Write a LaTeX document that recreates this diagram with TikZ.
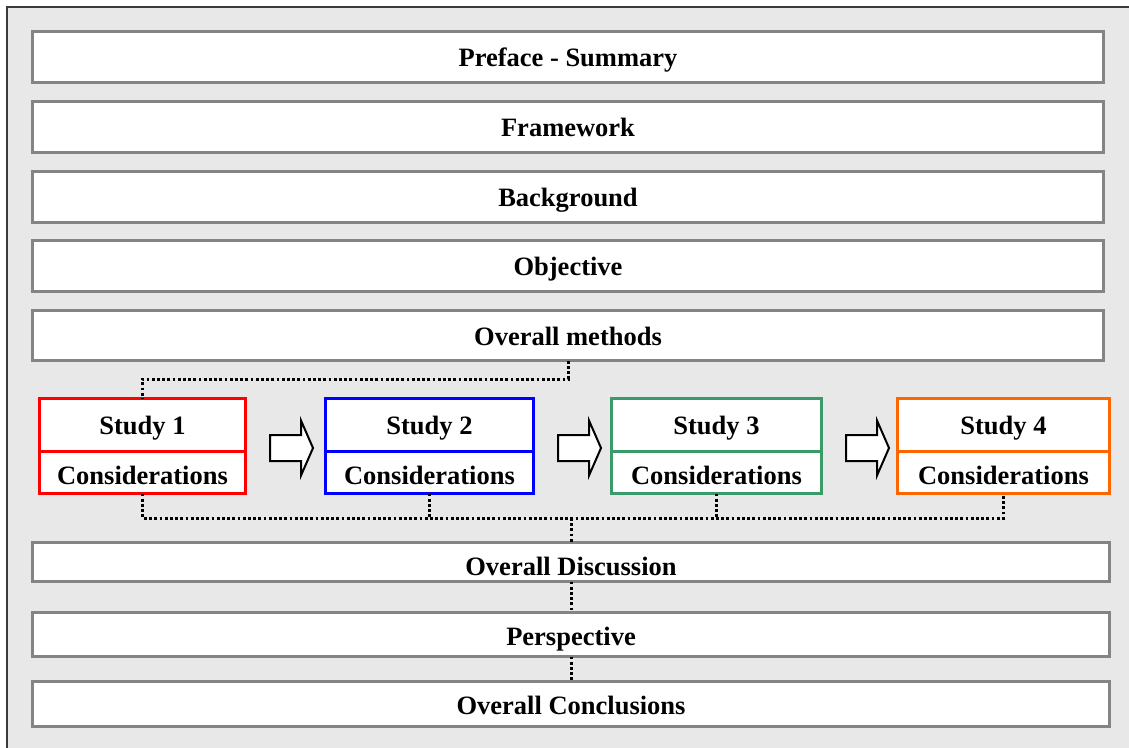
\documentclass[tikz,border=0pt]{standalone}
\usepackage{fontspec}
\setmainfont{Liberation Serif}
\definecolor{bg}{HTML}{E8E8E8}
\definecolor{boxgray}{HTML}{848484}
\definecolor{framec}{HTML}{3A3A3A}
\definecolor{sonec}{HTML}{FF0000}
\definecolor{stwoc}{HTML}{0000FF}
\definecolor{sthreec}{HTML}{3A9A6A}
\definecolor{sfourc}{HTML}{FF6600}
\begin{document}
\begin{tikzpicture}[x=1pt,y=-1pt,
  txt/.style={font=\fontsize{26.5}{30}\selectfont\bfseries, text height=19pt, text depth=0pt, inner sep=0pt, outer sep=0pt, align=center},
  box/.style={txt, draw=boxgray, line width=3pt, fill=white},
  widebox/.style={box, minimum width=1071pt, minimum height=51pt},
  lowbox/.style={box, minimum width=1077pt},
  studytop/.style={txt, draw=#1, line width=3pt, fill=white, minimum height=52.5pt},
  studybot/.style={txt, draw=#1, line width=3pt, fill=white, minimum height=42.5pt},
  dotline/.style={line width=3pt, dash pattern=on 2.8pt off 2.4pt, black},
  fatarrow/.pic={\draw[line width=2pt, fill=white, line join=miter] (0,-13) -- (31,-13) -- (31,-27.5) -- (43,0) -- (31,27.5) -- (31,13) -- (0,13) -- cycle;}
]
\useasboundingbox (0,0) rectangle (1129,747);
\clip (0,0) rectangle (1129,747);
\fill[white] (0,0) rectangle (1129,747);
\fill[bg] (7,7) rectangle (1145,765);
\draw[framec, line width=2.5pt] (7,7) rectangle (1145,765);

% top boxes
\node[widebox] (pref) at (568,57) {Preface - Summary};
\node[widebox] (frame) at (568,127) {Framework};
\node[widebox] (back) at (568,197) {Background};
\node[widebox] (obj) at (568,266) {Objective};
\node[widebox, minimum height=50.5pt] (meth) at (568,335.5) {Overall methods};

% studies
\node[studytop=sonec, minimum width=206pt] (s1t) at (142.5,424.75) {Study 1};
\node[studybot=sonec, minimum width=206pt] (s1b) at (142.5,472.25) {\raisebox{-3pt}{Considerations}};
\node[studytop=stwoc, minimum width=208pt] (s2t) at (429.5,424.75) {Study 2};
\node[studybot=stwoc, minimum width=208pt] (s2b) at (429.5,472.25) {\raisebox{-3pt}{Considerations}};
\node[studytop=sthreec, minimum width=210pt] (s3t) at (716.5,424.75) {Study 3};
\node[studybot=sthreec, minimum width=210pt] (s3b) at (716.5,472.25) {\raisebox{-3pt}{Considerations}};
\node[studytop=sfourc, minimum width=212pt] (s4t) at (1003.5,424.75) {Study 4};
\node[studybot=sfourc, minimum width=212pt] (s4b) at (1003.5,472.25) {\raisebox{-3pt}{Considerations}};

% arrows between studies
\pic at (270,448) {fatarrow};
\pic at (558,448) {fatarrow};
\pic at (846,448) {fatarrow};

% bottom boxes
\node[lowbox, minimum height=39pt] (disc) at (571,562) {\raisebox{-4pt}{Overall Discussion}};
\node[lowbox, minimum height=44pt] (persp) at (571,634.5) {\raisebox{-1pt}{Perspective}};
\node[lowbox, minimum height=45pt] (concl) at (571,704) {\raisebox{-1pt}{Overall Conclusions}};

% connectors
\coordinate (upbus) at (0,379);
\coordinate (lowbus) at (0,518);
\draw[dotline] (meth.south) |- (s1t.north |- upbus) -- (s1t.north);
\draw[dotline] (s1b.south) |- (s4b.south |- lowbus) -- (s4b.south);
\draw[dotline] (s2b.south) -- (s2b.south |- lowbus);
\draw[dotline] (s3b.south) -- (s3b.south |- lowbus);
\draw[dotline] (disc.north |- lowbus) -- (disc.north);
\draw[dotline] (disc.south) -- (persp.north);
\draw[dotline] (persp.south) -- (concl.north);
\end{tikzpicture}
\end{document}
